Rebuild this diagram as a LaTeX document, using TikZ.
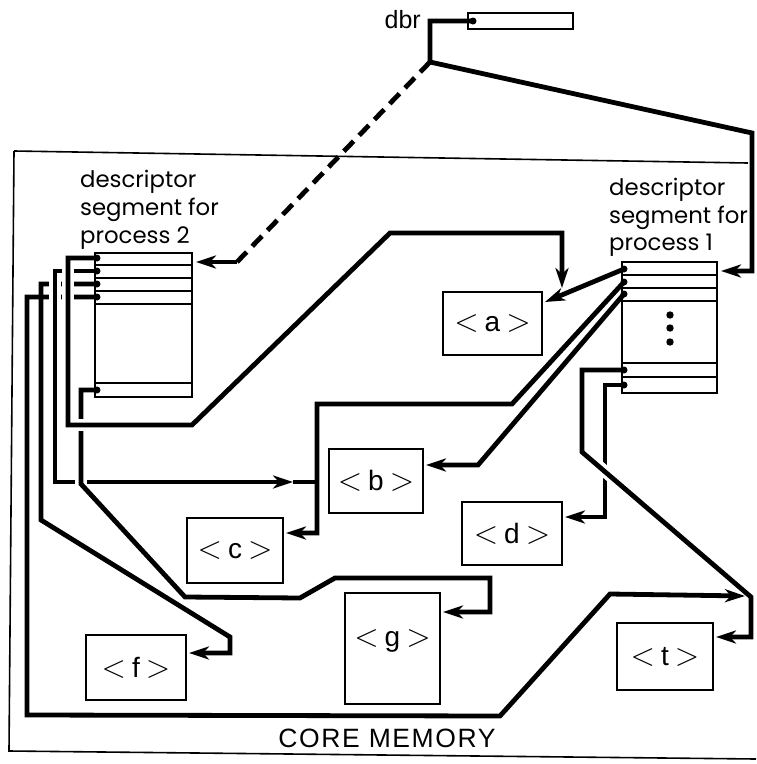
\RequirePackage{fix-cm}
\documentclass[tikz,border=0pt]{standalone}
\usepackage{fontspec}
\setmainfont{Liberation Sans}
\newfontfamily\geofont{Poppins}
\newfontfamily\capsfont[LetterSpace=6]{Liberation Sans}
\usetikzlibrary{arrows.meta}
% segment name in angle brackets
\newcommand\angled[1]{{\fontsize{32}{34}\selectfont$<$}\hspace{6pt}#1\hspace{6pt}{\fontsize{32}{34}\selectfont$>$}}

\begin{document}
\begin{tikzpicture}[x=1pt,y=-1pt,
  thinline/.style={line width=1.8pt},
  box/.style={draw, line width=1.8pt, inner sep=0pt, font=\fontsize{28}{32}\selectfont},
  link/.style={line width=4.8pt},
  tip/.style={-{Stealth[length=20pt,width=13pt,inset=6pt]}},
  gapline/.style={draw=white, line width=12pt},
  port/.style={circle, fill, inner sep=0pt, minimum size=7pt},
  heading/.style={font=\geofont\fontsize{22.8}{28}\selectfont, inner sep=0pt, anchor=base west}]
\useasboundingbox (0,0) rectangle (756,764);

% core memory frame
\draw[line width=1.6pt] (14,151) -- (748,163);
\draw[line width=1.6pt] (14,151) -- (9,751) -- (756,759);
\node[anchor=base, inner sep=0pt, font=\capsfont\fontsize{26.5}{30}\selectfont] (core) at (387,747) {CORE MEMORY};

% descriptor base register
\node[anchor=base east, inner sep=0pt, font=\fontsize{25}{28}\selectfont] (dbrlabel) at (421,28) {dbr};
\node[box, minimum width=105pt, minimum height=16pt] (dbrreg) at (520.5,21) {};

% descriptor segments
\node[heading] (p2a) at (80,187) {descriptor};
\node[heading] (p2b) at (80,215) {segment for};
\node[heading] (p2c) at (80,243) {process 2};
\node[heading] (p1a) at (609,195) {descriptor};
\node[heading] (p1b) at (609,223) {segment for};
\node[heading] (p1c) at (609,250) {process 1};

\node[box, minimum width=97pt, minimum height=144pt] (ds2) at (143.5,325) {};
\foreach \y in {265,278,291,304,383} \draw[thinline] (95,\y) -- (192,\y);
\node[box, minimum width=95pt, minimum height=131pt] (ds1) at (669.5,327.5) {};
\foreach \y in {275,288,301,363,377} \draw[thinline] (622,\y) -- (717,\y);
\foreach \y in {315,328,342} \fill (670,\y) circle (3.7pt);

% segments in core
\node[box, minimum width=99pt, minimum height=63pt] (sa) at (492.5,323.5) {\angled{a}};
\node[box, minimum width=94pt, minimum height=64pt] (sb) at (376,481) {\angled{b}};
\node[box, minimum width=96pt, minimum height=65pt] (sc) at (235,550.5) {\angled{c}};
\node[box, minimum width=100pt, minimum height=63pt] (sd) at (512,533.5) {\angled{d}};
\node[box, minimum width=100pt, minimum height=65pt] (sf) at (136,667.5) {\angled{f}};
\node[box, minimum width=95pt, minimum height=111pt] (sg) at (392.5,648.5) {};
\node[inner sep=0pt, font=\fontsize{28}{32}\selectfont] (glabel) at (392.5,641) {\angled{g}};
\node[box, minimum width=96pt, minimum height=67pt] (st) at (665,656.5) {\angled{t}};

% word ports
\node[port] (dbrport) at (473,21) {};
\node[port] (p2r1) at (97,258) {};
\node[port] (p2r2) at (97,271) {};
\node[port] (p2r3) at (97,284) {};
\node[port] (p2r4) at (97,297) {};
\node[port] (p2rl) at (97,390) {};
\node[port] (p1r1) at (624,269) {};
\node[port] (p1r2) at (624,282) {};
\node[port] (p1r3) at (624,294) {};
\node[port] (p1ra) at (624,370) {};
\node[port] (p1rb) at (624,385) {};

% dbr to both descriptor segments
\draw[link, tip] (dbrport.center) -- (430,21) -- (430,62) coordinate (split) -- (752,133) -- (752,271) -- (721,271);
\draw[link, dash pattern=on 14pt off 8pt] (split) -- (237,262) coordinate (dbend);
\draw[link, tip] (dbend) -- (196,262);

% process 2, word 4 -> t (shared)
\draw[link, tip] (p2r4.center) -- (27,297) -- (27,715) -- (500,716) -- (610,594) -- (745,596);
% process 2, word 3 -> f
\draw[link, tip] (p2r3.center) -- (41,284) -- (41,520) -- (230,637) -- (230,653) -- (189,653);
\draw[gapline] (55,271) -- (55,482);
% process 2, word 2 -> c (shared)
\draw[link, tip] (p2r2.center) -- (55,271) -- (55,482) -- (293,482) coordinate (cjoin);
\draw[link] (cjoin) -- (317,482);
% process 1, word 2 -> c
\draw[link, tip] (p1r2.center) -- (512,404) -- (317,404) -- (317,533) -- (286,533);
\draw[gapline] (81,390) -- (81,490);
% process 2, last word -> g
\draw[link, tip] (p2rl.center) -- (81,390) -- (81,484) -- (185,597) -- (300,598) -- (335,578) -- (490,578) -- (490,612) -- (443,612);
\draw[gapline] (68,258) -- (68,425) -- (192,425);
% process 2, word 1 -> a
\draw[link, tip] (p2r1.center) -- (68,258) -- (68,425) -- (192,425) -- (390,233) -- (562,233) -- (562,288);

% process 1, word 1 -> a
\draw[link, tip] (p1r1.center) -- (545,302);
% process 1, word 3 -> b
\draw[link, tip] (p1r3.center) -- (478,465) -- (426,465);
% process 1, next to last word -> d
\draw[link, tip] (p1rb.center) -- (605,385) -- (605,517) -- (565,517);
\draw[gapline] (592,460.3) -- (618,482.6);
% process 1, last word -> t
\draw[link, tip] (p1ra.center) -- (582,370) -- (582,452) -- (751,597) -- (751,637) -- (716,637);
\end{tikzpicture}
\end{document}
